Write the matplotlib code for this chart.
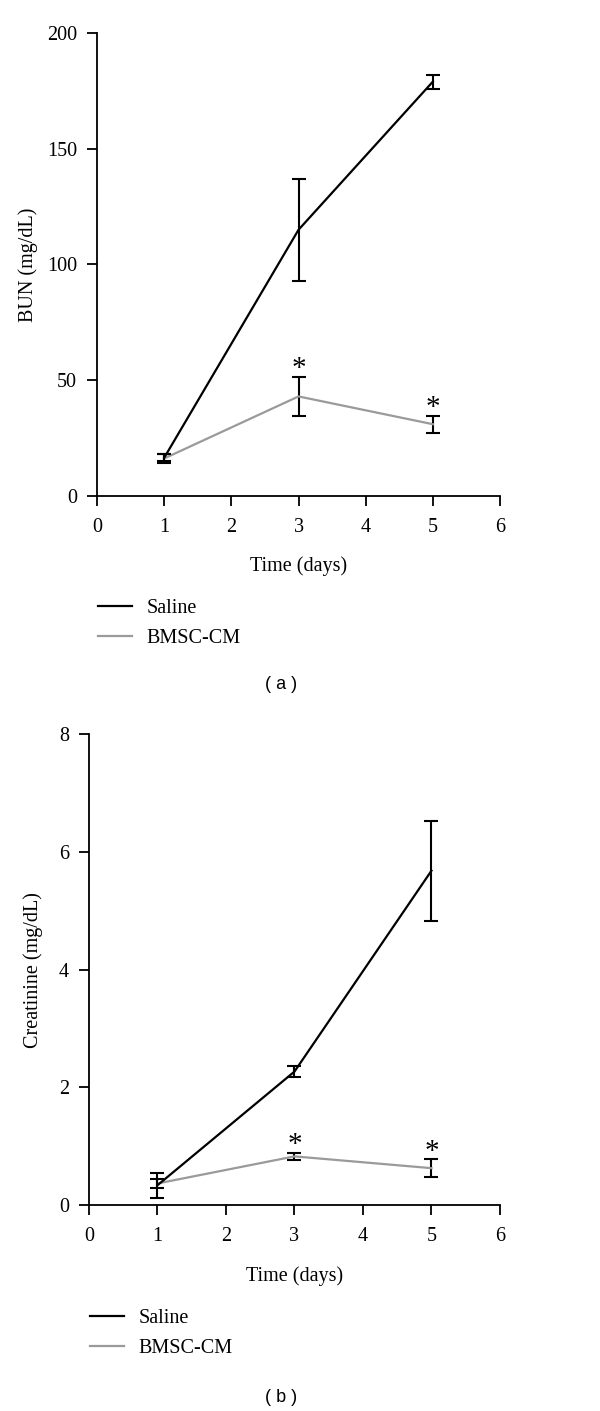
import matplotlib
matplotlib.use("Agg")
import matplotlib.pyplot as plt

# data
days = [1, 3, 5]

bun_saline = [16.5, 115, 179]
bun_saline_err = [1.5, 22, 3]
bun_cm = [16.2, 43, 31]
bun_cm_err = [2.1, 8.6, 3.7]

cre_saline = [0.34, 2.27, 5.68]
cre_saline_err = [0.21, 0.10, 0.85]
cre_cm = [0.37, 0.83, 0.63]
cre_cm_err = [0.07, 0.06, 0.15]

star_days = [3, 5]

plt.rcParams["font.family"] = ["Liberation Serif", "DejaVu Serif"]
plt.rcParams["font.size"] = 14.5

fig = plt.figure(figsize=(6, 14.11), dpi=100)


def panel(rect, saline, s_err, cm, c_err, ymax, ystep, ylabel, ylabelpad,
          caption, cap_y, leg_x, leg_y):
    ax = fig.add_axes(rect)
    ax.errorbar(days, saline, yerr=s_err, color="black", lw=1.6,
                ecolor="black", elinewidth=1.5, capsize=5, capthick=1.5, zorder=3)
    ax.errorbar(days, cm, yerr=c_err, color="#9a9a9a", lw=1.6,
                ecolor="black", elinewidth=1.5, capsize=5, capthick=1.5, zorder=2)
    # significance marks above the BMSC-CM bars
    for d in star_days:
        i = days.index(d)
        ax.annotate("*", (d, cm[i] + c_err[i]), xytext=(0, -4),
                    textcoords="offset points", ha="center", va="bottom", fontsize=21)
    ax.set_xlim(0, 6)
    ax.set_ylim(0, ymax)
    ax.set_xticks(range(0, 7))
    ax.set_yticks([ystep * k for k in range(int(ymax / ystep) + 1)])
    for s in ["top", "right"]:
        ax.spines[s].set_visible(False)
    for s in ["left", "bottom"]:
        ax.spines[s].set_linewidth(1.3)
    ax.tick_params(direction="out", length=7, width=1.3)
    ax.tick_params(axis="x", pad=9)
    ax.tick_params(axis="y", pad=7.5)
    ax.set_xlabel("Time (days)", labelpad=14)
    ax.set_ylabel(ylabel, labelpad=ylabelpad)
    h1, = ax.plot([], [], color="black", lw=1.6)
    h2, = ax.plot([], [], color="#9a9a9a", lw=1.6)
    ax.legend([h1, h2], ["Saline", "BMSC-CM"], loc="upper left",
              bbox_to_anchor=(leg_x, leg_y), bbox_transform=fig.transFigure,
              frameon=False, handlelength=1.7, handletextpad=0.7,
              labelspacing=0.55, borderaxespad=0, borderpad=0)
    fig.text(0.468, cap_y, caption, ha="center", va="center",
             family=["Liberation Sans", "DejaVu Sans"], fontsize=13)
    return ax


panel([0.1617, 0.6485, 0.6717, 0.3281], bun_saline, bun_saline_err, bun_cm, bun_cm_err,
      200, 50, "BUN (mg/dL)", 6, "( a )", 1 - 685 / 1411, 0.1633, 1 - 599 / 1411)
panel([0.1483, 0.1458, 0.685, 0.334], cre_saline, cre_saline_err, cre_cm, cre_cm_err,
      8, 2, "Creatinine (mg/dL)", 11.5, "( b )", 1 - 1398 / 1411, 0.15, 1 - 1309 / 1411)

fig.savefig("out.png", dpi=100)
